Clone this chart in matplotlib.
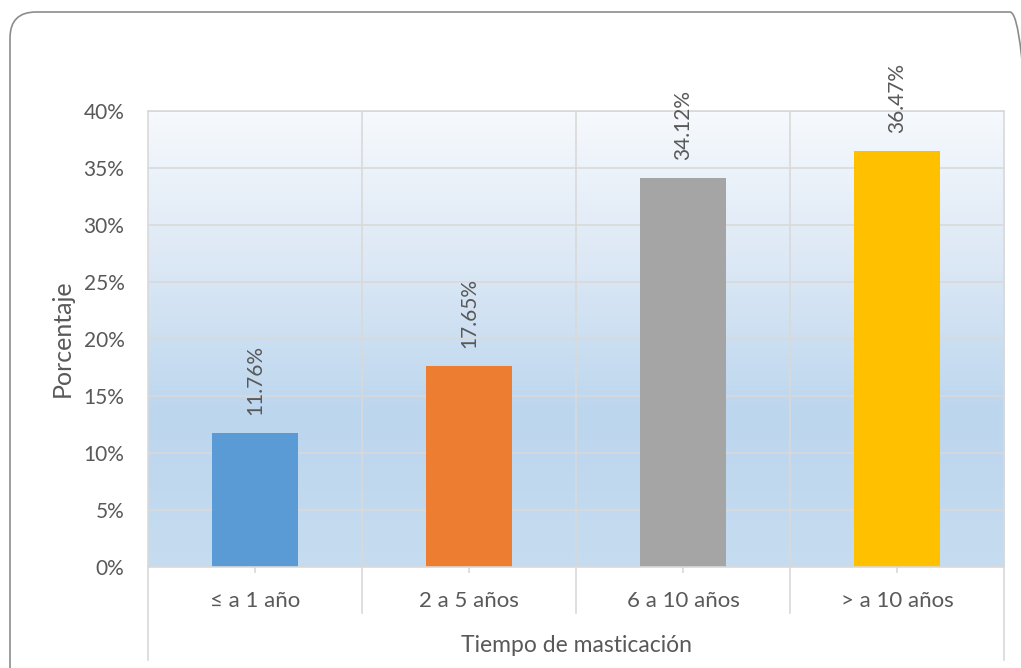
import matplotlib
matplotlib.use("Agg")
import matplotlib.pyplot as plt
import numpy as np
from matplotlib.patches import FancyBboxPatch
from matplotlib.lines import Line2D
from matplotlib.colors import LinearSegmentedColormap
from matplotlib.transforms import IdentityTransform

categories = ["≤ a 1 año", "2 a 5 años", "6 a 10 años", "> a 10 años"]
values = [11.76, 17.65, 34.12, 36.47]
colors = ["#5B9BD5", "#ED7D31", "#A5A5A5", "#FFC000"]
yticks = [0, 5, 10, 15, 20, 25, 30, 35, 40]
xlabel = "Tiempo de masticación"
ylabel = "Porcentaje"

plt.rcParams['font.family'] = ['Lato', 'DejaVu Sans']
txt = "#595959"
grid = "#D9D9D9"
fs = 15

W, H = 1021, 668
fig = plt.figure(figsize=(W / 100, H / 100), dpi=100)

# rounded border (pixel coordinates)
border = FancyBboxPatch((10, -40), 1026, H - 12 + 40,
                        boxstyle="round,pad=0,rounding_size=26",
                        transform=IdentityTransform(), facecolor="none",
                        edgecolor="#8C8C8C", linewidth=1.2, zorder=5)
fig.patches.append(border)

left, right, top, bottom = 148, 1004, 111, 567
ax = fig.add_axes([left / W, (H - bottom) / H, (right - left) / W, (bottom - top) / H])
ax.set_facecolor("none")

# gradient background
cmap = LinearSegmentedColormap.from_list("g", ["#F6F9FD", "#DCE8F5", "#BCD6EE", "#C6DCF0"])
grad = np.linspace(0, 1, 256).reshape(-1, 1)
ax.imshow(grad, cmap=cmap, aspect="auto", extent=[0, 1, 0, 1],
          transform=ax.transAxes, zorder=0, origin="upper")

x = np.arange(len(categories))
ax.set_xlim(-0.5, len(categories) - 0.5)
ax.set_ylim(0, 40)

for yt in yticks[1:]:
    ax.axhline(yt, color=grid, lw=1.2, zorder=1)
for xv in np.arange(0.5, len(categories) - 0.5, 1):
    ax.axvline(xv, color=grid, lw=1.2, zorder=1)

ax.bar(x, values, width=0.4, color=colors, zorder=2)

for xi, v in zip(x, values):
    ax.annotate(f"{v:.2f}%", (xi, v), xytext=(0, 13), textcoords="offset points",
                rotation=90, ha="center", va="bottom", color=txt, fontsize=fs)

for s in ["top", "right", "left", "bottom"]:
    ax.spines[s].set_color(grid)
    ax.spines[s].set_linewidth(1.2)

ax.set_yticks(yticks)
ax.set_yticklabels([f"{t}%" for t in yticks])
ax.tick_params(axis="y", length=0, pad=17, labelsize=fs, labelcolor=txt)
ax.set_xticks(x)
ax.set_xticklabels(categories)
ax.tick_params(axis="x", length=4, width=1.2, color=grid, pad=13, labelsize=16, labelcolor=txt)

tr = ax.get_xaxis_transform()
ax_h = bottom - top
for xv in np.arange(0.5, len(categories) - 0.5, 1):
    ax.add_line(Line2D([xv, xv], [0, -(613 - bottom) / ax_h], transform=tr,
                       color=grid, lw=1.2, clip_on=False))
for xv in [-0.5, len(categories) - 0.5]:
    ax.add_line(Line2D([xv, xv], [0, -(660 - bottom) / ax_h], transform=tr,
                       color=grid, lw=1.2, clip_on=False))

fig.text((left + right) / 2 / W, 1 - 645 / H, xlabel, ha="center", va="center",
         color=txt, fontsize=16.5)
fig.text(62 / W, 1 - 338 / H, ylabel, ha="center", va="center", rotation=90,
         color=txt, fontsize=18)

fig.savefig("out.png", dpi=100)
